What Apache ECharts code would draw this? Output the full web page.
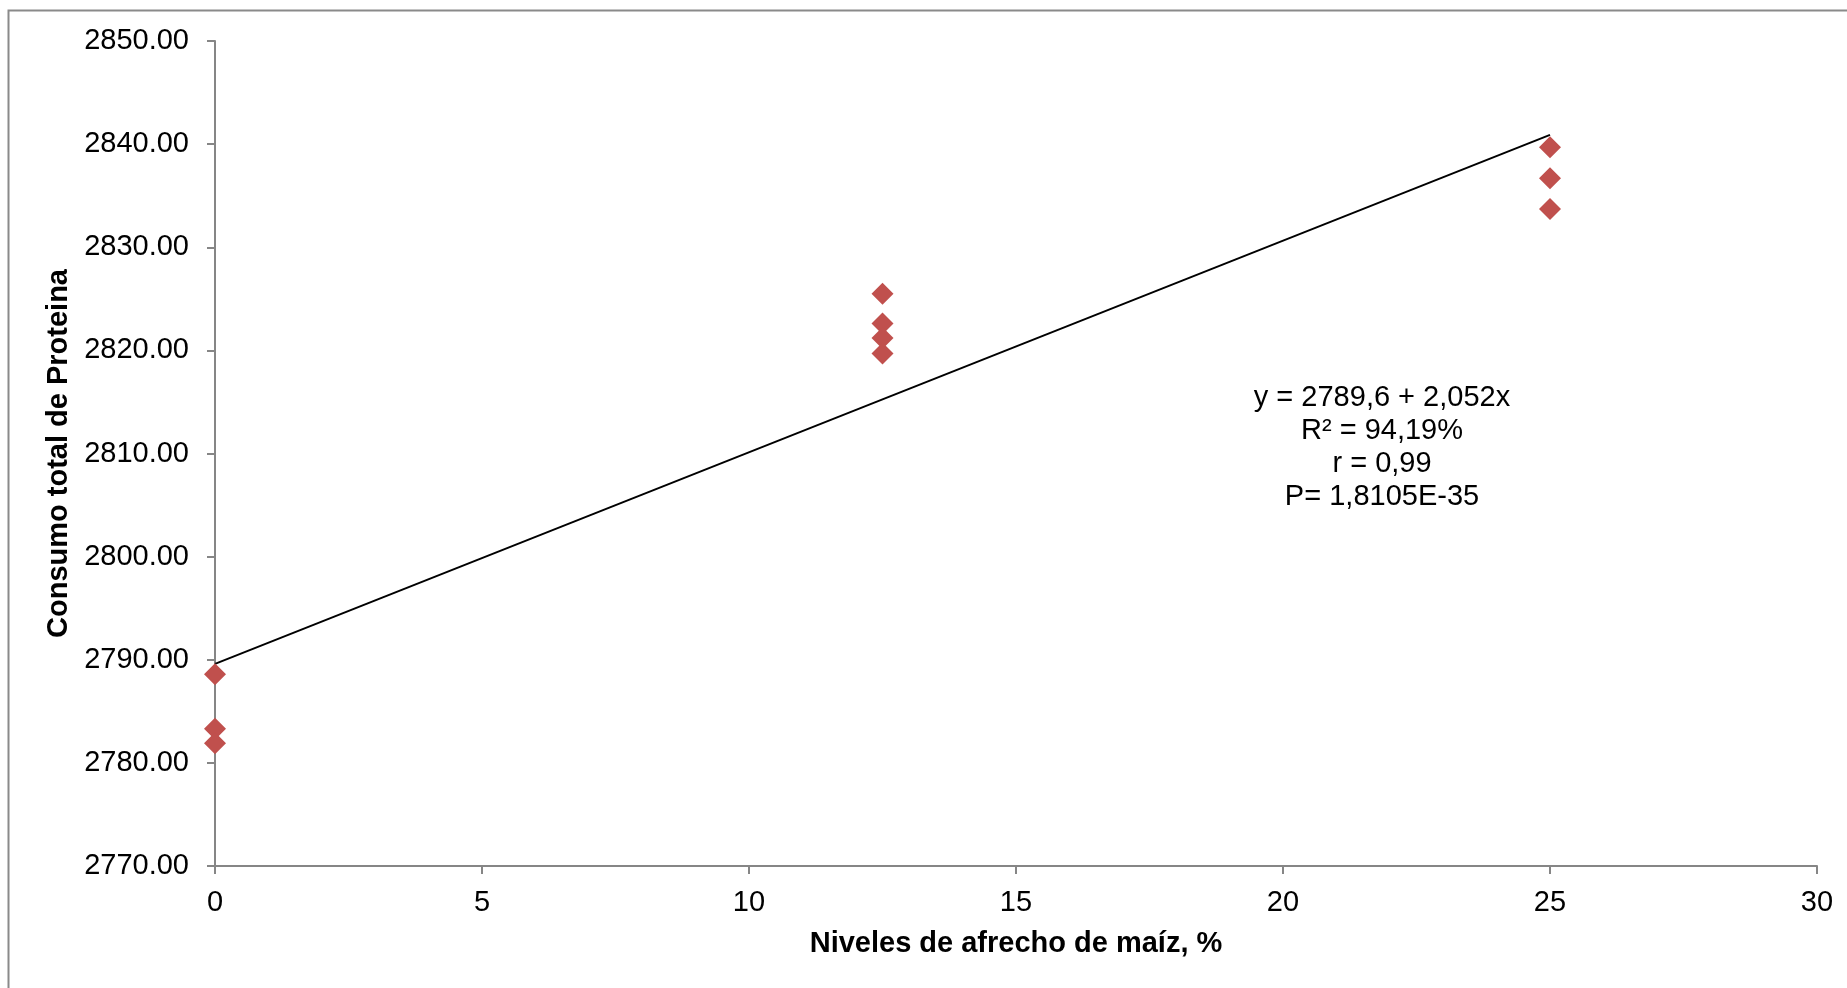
<!DOCTYPE html>
<html>
<head>
<meta charset="utf-8">
<script src="https://cdn.jsdelivr.net/npm/echarts@6/dist/echarts.min.js"></script>
<style>html,body{margin:0;padding:0;background:#fff}#c{width:1847px;height:988px}</style>
</head>
<body>
<div id="c"></div>
<script>
const xValues = [0, 0, 0, 12.5, 12.5, 12.5, 12.5, 25, 25, 25];
const yValues = [2788.6, 2783.3, 2781.9, 2825.5, 2822.6, 2821.2, 2819.7, 2839.7, 2836.7, 2833.7];
const trendX = [0, 25];
const trendY = [2789.6, 2840.9];
const annotationLines = ['y = 2789,6 + 2,052x', 'R² = 94,19%', 'r = 0,99', 'P= 1,8105E-35'];
const xTitle = 'Niveles de afrecho de maíz, %';
const yTitle = 'Consumo total de Proteina';

const font = '"Liberation Sans", Arial, sans-serif';
const chart = echarts.init(document.getElementById('c'), null, {renderer: 'canvas'});
const axisGray = '#868686';

chart.setOption({
  animation: false,
  backgroundColor: '#fff',
  grid: {left: 215, right: 30, top: 41, bottom: 122},
  xAxis: {
    type: 'value', min: 0, max: 30, interval: 5,
    name: xTitle, nameLocation: 'middle', nameGap: 63,
    nameTextStyle: {fontFamily: font, fontSize: 29, fontWeight: 'bold', color: '#000'},
    axisLine: {lineStyle: {color: axisGray, width: 2}},
    axisTick: {show: true, length: 8, lineStyle: {color: axisGray, width: 2}},
    axisLabel: {fontFamily: font, fontSize: 29, color: '#000', margin: 22},
    splitLine: {show: false}
  },
  yAxis: {
    type: 'value', min: 2770, max: 2850, interval: 10,
    name: yTitle, nameLocation: 'middle', nameGap: 140, nameRotate: 90,
    nameTextStyle: {fontFamily: font, fontSize: 29, fontWeight: 'bold', color: '#000'},
    axisLine: {show: true, lineStyle: {color: axisGray, width: 2}},
    axisTick: {show: true, length: 8, lineStyle: {color: axisGray, width: 2}},
    axisLabel: {fontFamily: font, fontSize: 29, color: '#000', margin: 26,
      formatter: v => v.toFixed(2)},
    splitLine: {show: false}
  },
  series: [
    {
      type: 'line',
      data: trendX.map((x, i) => [x, trendY[i]]),
      symbol: 'none',
      lineStyle: {color: '#000', width: 2},
      z: 2
    },
    {
      type: 'scatter',
      data: xValues.map((x, i) => [x, yValues[i]]),
      symbol: 'diamond',
      symbolSize: [22, 22],
      itemStyle: {color: '#C0504D', opacity: 1},
      z: 3
    }
  ],
  graphic: [
    {type: 'rect', shape: {x: 8.5, y: 10.5, width: 1900, height: 1000},
     style: {fill: 'none', stroke: '#8a8a8a', lineWidth: 2}, silent: true, z: -1},
    {type: 'text', x: 1382, y: 381,
     style: {text: annotationLines.join('\n'), font: '29px ' + font, fill: '#000',
       align: 'center', verticalAlign: 'top', lineHeight: 33}}
  ]
});
</script>
</body>
</html>
